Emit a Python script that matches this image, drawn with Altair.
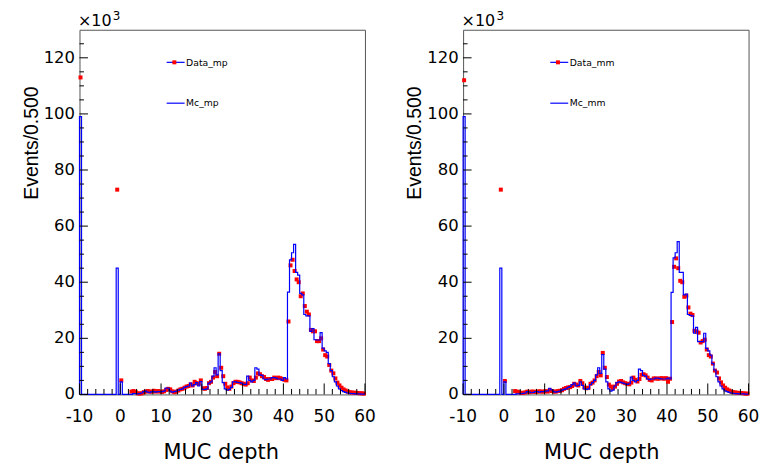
import altair as alt
import pandas as pd

BIN_START = -10.0
BIN_W = 0.5

# ---- MC histograms (blue), bins -10.0 ... 2.0 ----
mc_low_mp = [99, 0, 0, 0, 0, 0, 0, 0, 0, 0, 0, 0, 0, 0, 0, 0, 0, 0, 45, 0, 4.5, 0, 0, 0, 0]
mc_low_mm = [99, 0, 0, 0, 0, 0, 0, 0, 0, 0, 0, 0, 0, 0, 0, 0, 0, 0, 45, 0, 4.5, 0, 0, 0, 0]

# ---- MC histograms, bins 2.5 ... 59.5 ----
mc_main_mp = [
    0.0, 0.3, 0.3, 0.2, 0.3, 0.5, 1.0, 1.2, 0.8, 0.6,      # 2.5 - 7.0
    1.0, 1.0, 0.8, 1.0, 1.0, 1.0, 1.2, 2.3, 2.2, 1.2,      # 7.5 - 12.0
    0.8, 1.0, 1.2, 1.5, 1.8, 2.0, 2.5, 2.8, 3.0, 4.0,      # 12.5 - 17.0
    3.0, 3.5, 4.2, 3.0, 4.6, 1.8, 1.8, 2.0, 4.0, 4.5,      # 17.5 - 22.0
    6.5, 9.5, 7.0, 14.5, 8.5, 4.2, 2.0, 1.5, 1.8, 2.5,     # 22.5 - 27.0
    4.5, 4.5, 4.3, 4.2, 4.0, 3.6, 3.6, 6.5, 5.0, 4.5,      # 27.5 - 32.0
    5.0, 9.5, 9.0, 7.0, 6.8, 5.5, 5.3, 5.5, 5.5, 6.0,      # 32.5 - 37.0
    6.0, 5.8, 5.5, 5.5, 5.0, 6.0, 5.5, 36.5, 48.0, 50.5,   # 37.5 - 42.0
    53.5, 43.5, 42.5, 36.0, 35.5, 28.5, 28.0, 28.0, 22.5, 23.5,  # 42.5 - 47.0
    19.5, 19.4, 19.4, 22.0, 16.5, 15.5, 15.0, 11.0, 8.5, 6.3,    # 47.5 - 52.0
    4.5, 3.0, 2.0, 1.4, 1.0, 0.7, 0.5, 0.4, 0.3, 0.3,      # 52.5 - 57.0
    0.2, 0.2, 0.2, 0.1, 0.1,                               # 57.5 - 59.5
]
mc_main_mm = [
    0.0, 0.2, 0.2, 0.3, 0.4, 0.5, 1.0, 0.8, 0.6, 0.7,
    1.0, 1.0, 0.8, 1.0, 1.0, 1.2, 1.3, 2.2, 1.6, 1.0,
    0.8, 1.0, 1.2, 1.5, 1.8, 2.0, 2.5, 2.8, 3.5, 4.0,
    3.0, 3.2, 4.5, 3.2, 2.0, 1.8, 2.0, 3.5, 4.2, 5.0,
    7.0, 9.5, 7.5, 14.2, 9.0, 4.5, 2.0, 1.2, 1.5, 3.0,
    4.2, 4.5, 4.3, 4.0, 3.8, 3.6, 3.8, 6.2, 5.0, 4.5,
    5.0, 9.0, 8.5, 6.8, 6.5, 5.5, 5.3, 5.5, 5.5, 5.8,
    5.8, 5.6, 5.5, 5.5, 5.5, 5.8, 5.5, 36.4, 48.7, 50.5,
    54.5, 43.5, 43.5, 35.5, 35.8, 28.5, 28.2, 28.0, 21.8, 23.9,
    18.8, 18.8, 18.8, 21.8, 16.4, 15.5, 14.0, 11.0, 8.7, 6.3,
    4.5, 3.0, 2.0, 1.3, 1.0, 0.7, 0.5, 0.4, 0.3, 0.3,
    0.2, 0.2, 0.2, 0.1, 0.1,
]

# ---- Data points (red), isolated bins ----
data_low_x = [-9.75, -0.75, 0.25]
data_low_mp = [113, 73, 5.0]
data_low_mm = [112, 73, 4.8]

# ---- Data points, bins 2.5 ... 59.5 (centres 2.75 ... 59.75) ----
data_main_mp = [
    1.0, 1.2, 0.9, 0.4, 0.3, 0.4, 0.8, 1.0, 1.2, 1.0,
    1.0, 1.3, 1.0, 1.2, 1.0, 0.9, 1.1, 1.6, 2.0, 1.8,
    1.1, 0.8, 1.0, 1.4, 1.8, 2.0, 2.4, 2.8, 3.0, 3.6,
    3.2, 4.5, 4.0, 3.8, 5.0, 2.2, 2.0, 2.3, 4.0, 4.5,
    6.0, 8.0, 6.5, 14.5, 9.5, 6.5, 3.8, 2.5, 2.0, 2.8,
    4.0, 4.5, 4.5, 4.3, 4.0, 3.8, 3.5, 4.0, 6.0, 5.0,
    4.8, 6.0, 7.5, 7.2, 6.5, 6.2, 5.5, 5.2, 5.5, 5.5,
    6.0, 5.8, 6.0, 5.8, 5.5, 5.2, 5.0, 26.0, 46.0, 48.0,
    44.0, 41.0, 40.0, 35.0, 36.0, 31.5, 29.5, 28.5, 23.0, 22.5,
    22.5, 19.0, 19.0, 20.0, 16.0, 14.0, 13.5, 10.5, 8.5, 7.5,
    5.7, 4.2, 3.2, 2.4, 1.8, 1.4, 1.0, 0.8, 0.7, 0.6,
    0.6, 0.5, 0.4, 0.4, 0.3,
]
data_main_mm = [
    1.2, 1.0, 0.8, 0.5, 0.6, 0.7, 1.0, 0.8, 1.0, 1.0,
    0.9, 1.0, 1.1, 1.0, 1.0, 1.2, 1.0, 1.5, 1.2, 1.0,
    1.0, 1.2, 1.3, 1.5, 2.0, 2.3, 2.5, 2.6, 3.0, 3.8,
    3.5, 3.2, 4.8, 4.0, 2.5, 2.2, 2.4, 3.8, 4.2, 5.0,
    6.5, 8.0, 6.8, 14.8, 9.5, 6.2, 3.5, 2.8, 2.2, 2.8,
    3.8, 4.6, 4.8, 4.3, 4.0, 3.8, 3.6, 4.2, 6.0, 5.2,
    4.6, 5.5, 7.0, 7.2, 6.8, 6.0, 5.2, 5.0, 5.7, 5.7,
    5.6, 5.7, 5.8, 5.6, 5.8, 4.5, 5.6, 25.8, 45.5, 48.5,
    45.0, 40.5, 40.0, 34.8, 35.2, 31.0, 28.8, 28.3, 22.7, 22.4,
    22.0, 18.5, 19.0, 19.5, 16.0, 14.0, 13.5, 11.0, 8.5, 7.8,
    5.7, 4.3, 3.2, 2.4, 1.8, 1.4, 1.0, 0.8, 0.7, 0.6,
    0.5, 0.5, 0.4, 0.3, 0.3,
]

# ---- axis ticks / labels ----
x_labels = [-10, 0, 10, 20, 30, 40, 50, 60]
x_label_text = ["-10", "0", "10", "20", "30", "40", "50", "60"]
x_minor = [-8, -6, -4, -2, 2, 4, 6, 8, 12, 14, 16, 18, 22, 24, 26, 28, 32, 34, 36, 38,
           42, 44, 46, 48, 52, 54, 56, 58]
y_labels = [0, 20, 40, 60, 80, 100, 120]
y_label_text = ["0", "20", "40", "60", "80", "100", "120"]
y_minor = [5, 10, 15, 25, 30, 35, 45, 50, 55, 65, 70, 75, 85, 90, 95, 105, 110, 115, 125]

W = 286.5
H = 366


def mc_frame(low, main):
    vals = low + main
    rows = [{"x": BIN_START, "y": 0.0, "o": 0}]
    for i, v in enumerate(vals):
        rows.append({"x": BIN_START + BIN_W * i, "y": v, "o": i + 1})
    rows.append({"x": BIN_START + BIN_W * len(vals), "y": vals[-1], "o": len(vals) + 1})
    return pd.DataFrame(rows)


def pts_frame(low, main):
    xs = list(data_low_x) + [2.75 + BIN_W * i for i in range(len(main))]
    return pd.DataFrame({"x": xs, "y": list(low) + list(main)})


one = pd.DataFrame({"a": [0]})


def txt(text, x, y, size, font="DejaVu Sans", align="left", baseline="alphabetic", angle=0):
    return alt.Chart(one).mark_text(align=align, baseline=baseline, font=font,
                                    fontSize=size, color="black", angle=angle).encode(
        x=alt.value(x), y=alt.value(y), text=alt.value(text))


def panel(mc_df, pts_df, data_label, mc_label, title_dx):
    xsc = alt.Scale(domain=[-10, 60], nice=False, zero=False)
    ysc = alt.Scale(domain=[0, 130], nice=False)

    pts = alt.Chart(pts_df).mark_square(size=16, color="#ff0000", opacity=1).encode(
        x=alt.X("x:Q", scale=xsc, axis=None),
        y=alt.Y("y:Q", scale=ysc, axis=None),
    )
    mc = alt.Chart(mc_df).mark_line(interpolate="step-after", color="#0000ff",
                                    strokeWidth=1.2).encode(
        x=alt.X("x:Q", scale=xsc, axis=None),
        y=alt.Y("y:Q", scale=ysc, axis=None),
        order="o:Q",
    )
    xmaj = alt.Chart(pd.DataFrame({"t": x_labels})).mark_rule(color="black", strokeWidth=1).encode(
        x=alt.X("t:Q", scale=xsc, axis=None), y=alt.value(H), y2=alt.value(H - 11))
    xmin = alt.Chart(pd.DataFrame({"t": x_minor})).mark_rule(color="black", strokeWidth=1).encode(
        x=alt.X("t:Q", scale=xsc, axis=None), y=alt.value(H), y2=alt.value(H - 5.5))
    ymaj = alt.Chart(pd.DataFrame({"t": y_labels})).mark_rule(color="black", strokeWidth=1).encode(
        y=alt.Y("t:Q", scale=ysc, axis=None), x=alt.value(0), x2=alt.value(8.5))
    ymin = alt.Chart(pd.DataFrame({"t": y_minor})).mark_rule(color="black", strokeWidth=1).encode(
        y=alt.Y("t:Q", scale=ysc, axis=None), x=alt.value(0), x2=alt.value(4.5))

    xlab = alt.Chart(pd.DataFrame({"t": x_labels, "s": x_label_text})).mark_text(
        align="center", baseline="alphabetic", font="DejaVu Sans", fontSize=17, color="black"
    ).encode(x=alt.X("t:Q", scale=xsc, axis=None), y=alt.value(H + 27.4), text="s:N")
    ylab = alt.Chart(pd.DataFrame({"t": y_labels, "s": y_label_text})).mark_text(
        align="right", baseline="middle", font="DejaVu Sans", fontSize=16.5, color="black"
    ).encode(y=alt.Y("t:Q", scale=ysc, axis=None), x=alt.value(-4.5), text="s:N")

    xtitle = txt("MUC depth", W / 2 + title_dx, H + 64.7, 21, align="center")
    ytitle = txt("Events/0.500", -48, 113.7, 19.5, font="Liberation Sans", align="center",
                 baseline="middle", angle=270)

    leg1 = alt.Chart(one).mark_rule(color="#0000ff", strokeWidth=1.2).encode(
        x=alt.value(87.5), x2=alt.value(105.5), y=alt.value(32.7))
    leg2 = alt.Chart(one).mark_rule(color="#0000ff", strokeWidth=1.2).encode(
        x=alt.value(87.5), x2=alt.value(105.5), y=alt.value(73.7))
    legsq = alt.Chart(one).mark_square(size=16, color="#ff0000", opacity=1).encode(
        x=alt.value(95.2), y=alt.value(32.7))
    legt1 = txt(data_label, 107, 33, 9.3, baseline="middle")
    legt2 = txt(mc_label, 107, 73.5, 9.3, baseline="middle")
    exp1 = txt("×10", -1.5, -3.3, 16)
    exp2 = txt("3", 33.5, -10, 12)

    return alt.layer(pts, mc, xmaj, xmin, ymaj, ymin, xlab, ylab, xtitle, ytitle,
                     leg1, leg2, legsq, legt1, legt2, exp1, exp2).properties(width=W, height=H)


left = panel(mc_frame(mc_low_mp, mc_main_mp), pts_frame(data_low_mp, data_main_mp),
             "Data_mp", "Mc_mp", -1)
right = panel(mc_frame(mc_low_mm, mc_main_mm), pts_frame(data_low_mm, data_main_mm),
              "Data_mm", "Mc_mm", -4)

chart = alt.hconcat(left, right, spacing=98, bounds="flush").properties(
    padding={"left": 12.75, "top": 0, "right": 5, "bottom": 0},
    background="white",
).configure_view(stroke="#555555", strokeWidth=1)

chart.save("out.html", embed_options={"renderer": "svg", "actions": False})
